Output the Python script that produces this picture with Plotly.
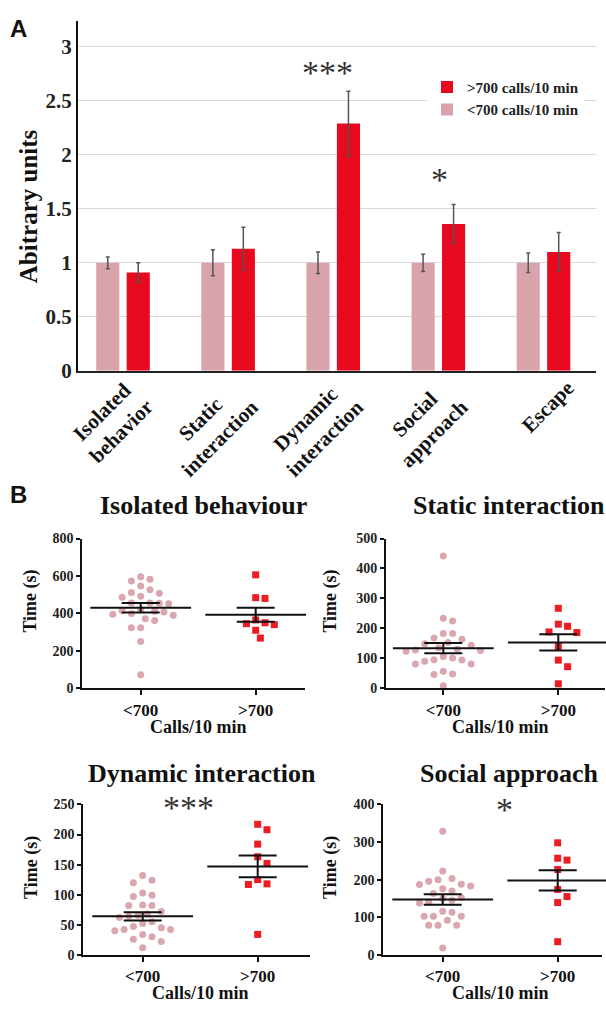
import plotly.graph_objects as go

W, H = 606, 1012
SERIF = "Liberation Serif, Times New Roman, serif"
SANS = "Liberation Sans, Arial, sans-serif"
PINK = "#d8a3aa"
RED = "#e8091e"
PINK2 = "#dba7ae"
RED2 = "#ec1c24"

# ---------------- Panel A data ----------------
categories = ["Isolated<br>behavior", "Static<br>interaction", "Dynamic<br>interaction",
              "Social<br>approach", "Escape"]
low_mean = [1.0, 1.0, 1.0, 1.0, 1.0]
low_err = [0.055, 0.12, 0.10, 0.08, 0.09]
high_mean = [0.91, 1.13, 2.29, 1.36, 1.10]
high_err = [0.09, 0.20, 0.30, 0.18, 0.18]
sig_A = ["", "", "***", "*", ""]
sig_A_y = [0, 0, 2.76, 1.77, 0]

# ---------------- Panel B data ----------------
group_labels = ["&lt;700", "&gt;700"]
titles_B = ["Isolated behaviour", "Static interaction", "Dynamic interaction", "Social approach"]

iso_low = [596, 582, 573, 547, 526, 512, 508, 491, 486, 456, 456, 454, 452, 420, 416, 412,
           408, 400, 396, 390, 372, 362, 323, 323, 250, 72]
iso_high = [606, 484, 480, 365, 350, 345, 340, 310, 268]
iso_mean = [430, 393]
iso_sem = [25, 37]

static_low = [442, 234, 225, 183, 183, 168, 164, 153, 149, 144, 135, 130, 128, 126, 124, 106,
              101, 95, 94, 90, 81, 81, 57, 48, 46, 8]
static_high = [267, 214, 207, 188, 186, 139, 94, 72, 15]
static_mean = [134, 153]
static_sem = [17, 27]

dyn_low = [132, 124, 120, 103, 99, 97, 83, 82, 82, 72, 68, 66, 64, 62, 55, 52, 47, 45, 42, 42,
           40, 34, 30, 26, 22, 12]
dyn_high = [217, 208, 184, 163, 152, 125, 118, 117, 34]
dyn_mean = [64, 147]
dyn_sem = [7, 18]

soc_low = [329, 223, 203, 200, 196, 188, 187, 183, 176, 170, 163, 152, 150, 145, 140, 138, 116,
           113, 103, 103, 103, 92, 79, 79, 79, 18]
soc_high = [298, 257, 252, 227, 174, 155, 139, 35]
soc_mean = [147, 198]
soc_sem = [14, 27]

y_max_B = [800, 500, 250, 400]
y_dtick_B = [200, 100, 50, 100]
sig_B = ["", "", "***", "*"]
sig_B_pos = [None, None, (0.4, 245), (0.54, 387)]

panels_B = [
    (iso_low, iso_high, iso_mean, iso_sem),
    (static_low, static_high, static_mean, static_sem),
    (dyn_low, dyn_high, dyn_mean, dyn_sem),
    (soc_low, soc_high, soc_mean, soc_sem),
]


def fx(px):
    return px / W


def fy(py):
    return 1 - py / H


# subplot geometry in pixels: (x0, x1, cat0_px, y_top, y_bottom)
geom_B = [
    (82.3, 305.0, 140.7, 541.7, 694.3),
    (386.0, 605.0, 443.3, 541.7, 694.3),
    (83.3, 310.0, 142.7, 812.7, 966.0),
    (383.3, 601.7, 442.7, 812.7, 966.0),
]
CAT_PX = 115.0


def swarm(vals, y_px, x_px, d=9.3):
    idx = sorted(range(len(vals)), key=lambda i: -vals[i])
    placed = []
    offs = [0.0] * len(vals)
    steps = [0.0]
    for j in range(1, 14):
        steps += [j * d / 2, -j * d / 2]
    for i in idx:
        yp = vals[i] * y_px
        chosen = steps[-1]
        for s in steps:
            if all((s - qx) ** 2 + (yp - qy) ** 2 >= d * d * 0.98 for qx, qy in placed):
                chosen = s
                break
        placed.append((chosen, yp))
        offs[i] = chosen / x_px
    return offs


fig = go.Figure()

# Panel A bars (red first so legend lists it first)
fig.add_trace(go.Bar(
    x=list(range(5)), y=high_mean, width=0.22, offset=0.04,
    marker=dict(color=RED, line=dict(width=0)),
    error_y=dict(type="data", array=high_err, color="#555555", thickness=1.5, width=2),
    name="&gt;700 calls/10 min", xaxis="x", yaxis="y"))
fig.add_trace(go.Bar(
    x=list(range(5)), y=low_mean, width=0.22, offset=-0.25,
    marker=dict(color=PINK, line=dict(width=0)),
    error_y=dict(type="data", array=low_err, color="#555555", thickness=1.5, width=2),
    name="&lt;700 calls/10 min", xaxis="x", yaxis="y"))

layout = dict(
    width=W, height=H, autosize=False,
    margin=dict(l=0, r=0, t=0, b=0),
    paper_bgcolor="white", plot_bgcolor="white",
    barmode="overlay",
    showlegend=True,
    legend=dict(x=fx(427), y=fy(65), xanchor="left", yanchor="top", bgcolor="white",
                font=dict(family=SERIF, size=15, weight="bold", color="#222"),
                tracegroupgap=0, itemwidth=30),
    xaxis=dict(domain=[fx(78), fx(595.5)], range=[-0.423, 4.5], showline=True,
               linecolor="#222", linewidth=2, showticklabels=False, showgrid=False,
               zeroline=False, ticks="", anchor="y", fixedrange=True),
    yaxis=dict(domain=[fy(370.7), fy(14)], range=[0, 3.243], dtick=0.5, showline=True,
               linecolor="#111", linewidth=2, showgrid=True, gridcolor="#d9d9d9",
               gridwidth=1, zeroline=False, ticks="",
               tickfont=dict(family=SERIF, size=21, weight="bold", color="#222"),
               anchor="x"),
)

annotations = []
annotations.append(dict(text="A", x=fx(18), y=fy(21.5), xref="paper", yref="paper",
                        showarrow=False, xanchor="center", yanchor="middle",
                        font=dict(family=SANS, size=24, weight="bold", color="#111")))
annotations.append(dict(text="B", x=fx(18), y=fy(497), xref="paper", yref="paper",
                        showarrow=False, xanchor="center", yanchor="middle",
                        font=dict(family=SANS, size=24, weight="bold", color="#111")))
annotations.append(dict(text="Abitrary units", x=fx(28), y=fy(203), xref="paper", yref="paper",
                        showarrow=False, textangle=-90, xanchor="center", yanchor="middle",
                        font=dict(family=SERIF, size=25, weight="bold", color="#111")))
for i, cat in enumerate(categories):
    annotations.append(dict(text=cat, x=i, xref="x", y=fy(373), yref="paper", xshift=38,
                            showarrow=False, textangle=-45, xanchor="right", yanchor="top",
                            align="center",
                            font=dict(family=SERIF, size=21, weight="bold", color="#111")))
for i, s in enumerate(sig_A):
    if s:
        annotations.append(dict(text=s, x=i, xref="x", y=sig_A_y[i], yref="y", showarrow=False,
                                xanchor="center", yanchor="middle", xshift=-5 if len(s) > 1 else 2,
                                font=dict(family=SERIF, size=34, color="#333")))

for k, (lowv, highv, means, sems) in enumerate(panels_B):
    x0, x1, c0, yt, yb = geom_B[k]
    lo = -(c0 - x0) / CAT_PX
    hi = (x1 - c0) / CAT_PX
    xa = "x%d" % (k + 2)
    ya = "y%d" % (k + 2)
    y_px = (yb - yt) / y_max_B[k]
    off_l = swarm(lowv, y_px, CAT_PX)
    off_h = swarm(highv, y_px, CAT_PX)
    fig.add_trace(go.Scatter(
        x=[0 + o for o in off_l], y=lowv, mode="markers", xaxis=xa, yaxis=ya,
        marker=dict(symbol="circle", size=7, color=PINK2), showlegend=False, cliponaxis=False))
    fig.add_trace(go.Scatter(
        x=[1 + o for o in off_h], y=highv, mode="markers", xaxis=xa, yaxis=ya,
        marker=dict(symbol="square", size=7, color=RED2), showlegend=False, cliponaxis=False))
    fig.add_trace(go.Scatter(
        x=[0, 1], y=means, mode="markers", xaxis=xa, yaxis=ya,
        marker=dict(symbol="line-ew", size=72, line=dict(width=2, color="#111")),
        error_y=dict(type="data", array=sems, color="#111", thickness=2, width=19),
        showlegend=False, cliponaxis=False))
    layout["xaxis%d" % (k + 2)] = dict(
        domain=[fx(x0), fx(x1)], range=[lo, hi], anchor=ya, showline=True, linecolor="#111",
        linewidth=2, ticks="outside", ticklen=5, tickwidth=2, tickcolor="#111",
        tickvals=[0, 1], ticktext=group_labels, showgrid=False, zeroline=False,
        tickfont=dict(family=SERIF, size=17, weight="bold", color="#111"))
    layout["yaxis%d" % (k + 2)] = dict(
        domain=[fy(yb), fy(yt)], range=[0, y_max_B[k]], dtick=y_dtick_B[k], anchor=xa,
        showline=True, linecolor="#111", linewidth=2, ticks="outside", ticklen=4,
        tickwidth=2, tickcolor="#111", showgrid=False, zeroline=False,
        tickfont=dict(family=SERIF, size=14, weight="bold", color="#222"))
    # titles
    tcx = [203, 509, 202, 509][k]
    tcy = [508, 508, 781, 781][k]
    annotations.append(dict(text=titles_B[k], x=fx(tcx), y=fy(tcy), xref="paper", yref="paper",
                            showarrow=False, xanchor="center", yanchor="middle",
                            font=dict(family=SERIF, size=26, weight="bold", color="#111")))
    annotations.append(dict(text="Time (s)", x=fx([31, 331, 32, 331][k]),
                            y=fy((yt + yb) / 2 - 12), xref="paper", yref="paper",
                            showarrow=False, textangle=-90, xanchor="center", yanchor="middle",
                            font=dict(family=SERIF, size=18, weight="bold", color="#111")))
    annotations.append(dict(text="Calls/10 min", x=0.5, xref=xa, y=fy(yb + 39), yref="paper",
                            showarrow=False, xanchor="center", yanchor="middle",
                            font=dict(family=SERIF, size=18, weight="bold", color="#111")))
    if sig_B[k]:
        sx, sy = sig_B_pos[k]
        annotations.append(dict(text=sig_B[k], x=sx, xref=xa, y=sy, yref=ya, showarrow=False,
                                xanchor="center", yanchor="middle",
                                font=dict(family=SERIF, size=34, color="#333")))

layout["annotations"] = annotations
fig.update_layout(**layout)
fig.write_html("out.html", config={"displayModeBar": False},
               post_script="document.body.style.margin='0px';document.body.style.overflow='hidden';")
